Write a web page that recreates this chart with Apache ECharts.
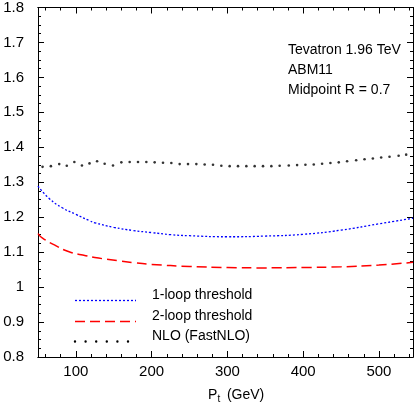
<!DOCTYPE html>
<html>
<head>
<meta charset="utf-8">
<script src="https://cdn.jsdelivr.net/npm/echarts@6/dist/echarts.min.js"></script>
<style>
  html, body { margin: 0; padding: 0; background: #fff; }
  #chart { width: 414px; height: 404px; }
</style>
</head>
<body>
<div id="chart"></div>
<script>
// x 轴刻度
var xMajor = [100, 200, 300, 400, 500];
var xMinor = [60, 80, 120, 140, 160, 180, 220, 240, 260, 280, 320, 340, 360, 380, 420, 440, 460, 480, 520, 540];

// 1-loop threshold
var loop1Pt = [50, 65, 82, 100, 118, 125, 150, 175, 200, 225, 250, 300, 350, 400, 450, 500, 545];
var loop1Val = [1.289, 1.253, 1.227, 1.208, 1.190, 1.184, 1.171, 1.162, 1.156, 1.150, 1.147, 1.144, 1.146, 1.151, 1.163, 1.181, 1.197];

// 2-loop threshold
var loop2Pt = [50, 56, 74, 91, 113, 130, 157, 175, 200, 250, 300, 350, 400, 450, 500, 545];
var loop2Val = [1.153, 1.140, 1.118, 1.101, 1.090, 1.083, 1.075, 1.070, 1.065, 1.059, 1.056, 1.055, 1.056, 1.058, 1.063, 1.071];

// NLO (FastNLO)
var nloPt = [56, 67, 78, 88, 98, 108, 118, 128, 138, 149, 160, 171, 182, 193, 204, 215, 226, 237, 248, 259, 270, 281, 292,
    303, 314, 325, 336, 347, 358, 369, 381, 392, 403, 414, 425, 436, 447, 458, 470, 481, 492, 503, 514, 526, 536];
var nloVal = [1.344, 1.346, 1.352, 1.347, 1.358, 1.348, 1.354, 1.360, 1.353, 1.348, 1.357, 1.358, 1.358, 1.358, 1.357, 1.356, 1.355, 1.352, 1.352, 1.352, 1.351, 1.350, 1.347,
    1.346, 1.346, 1.346, 1.346, 1.346, 1.346, 1.347, 1.348, 1.349, 1.350, 1.351, 1.353, 1.355, 1.357, 1.360, 1.363, 1.366, 1.368, 1.371, 1.373, 1.376, 1.379];

var legendNames = ['1-loop threshold', '2-loop threshold', 'NLO (FastNLO)'];
var infoLines = ['Tevatron 1.96 TeV', 'ABM11', 'Midpoint R = 0.7'];

function pairs(a, b) {
    var out = [];
    for (var i = 0; i < a.length; i++) out.push([a[i], b[i]]);
    return out;
}

var font = 'Liberation Sans, Arial, Helvetica, sans-serif';
var black = '#000';

function xAx(pos, ticks, len, labels) {
    return {
        type: 'value', position: pos, min: 50, max: 545,
        axisLine: { show: true, lineStyle: { color: black, width: 1 } },
        axisTick: { show: true, inside: true, length: len, customValues: ticks, lineStyle: { color: black, width: 1 } },
        axisLabel: labels ? { show: true, customValues: xMajor, color: black, fontSize: 15, fontFamily: font, margin: 7 } : { show: false },
        splitLine: { show: false }
    };
}
function yAx(pos, labels) {
    return {
        type: 'value', position: pos, min: 0.8, max: 1.8, interval: 0.1,
        axisLine: { show: true, lineStyle: { color: black, width: 1 } },
        axisTick: { show: true, inside: true, length: 6, lineStyle: { color: black, width: 1 } },
        minorTick: { show: true, splitNumber: 4, length: 3, lineStyle: { color: black, width: 1 } },
        axisLabel: labels ? { show: true, color: black, fontSize: 15, fontFamily: font, margin: 14 } : { show: false },
        splitLine: { show: false }, minorSplitLine: { show: false }
    };
}

var myChart = echarts.init(document.getElementById('chart'), null, { renderer: 'canvas' });

// 图例 + 注释
var graphics = [];
var legY = [300.5, 321.5, 341.5];
var legStyles = [
    { stroke: '#0000ff', lineWidth: 1.3, lineDash: [2, 2] },
    { stroke: '#ff0000', lineWidth: 1.5, lineDash: [10, 5] },
    { stroke: '#000', lineWidth: 2.4, lineDash: [0, 10.6], lineCap: 'round' }
];
for (var i = 0; i < legendNames.length; i++) {
    graphics.push({ type: 'line', shape: { x1: 75, y1: legY[i], x2: 136, y2: legY[i] }, style: legStyles[i] });
    graphics.push({ type: 'text', left: 152, top: legY[i] - 12, style: { text: legendNames[i], fill: black, font: '14px ' + font } });
}
for (var j = 0; j < infoLines.length; j++) {
    graphics.push({ type: 'text', left: 288, top: 43 + j * 20, style: { text: infoLines[j], fill: black, font: '14px ' + font } });
}
// x 轴标题 P_t (GeV)
graphics.push({ type: 'text', left: 208, top: 388, style: { text: 'P', fill: black, font: '14px ' + font } });
graphics.push({ type: 'text', left: 217.5, top: 394, style: { text: 't', fill: black, font: '10px ' + font } });
graphics.push({ type: 'text', left: 223, top: 388, style: { text: ' (GeV)', fill: black, font: '14px ' + font } });

var option = {
    animation: false,
    backgroundColor: '#fff',
    grid: { left: 38, right: 1, top: 5, bottom: 47 },
    xAxis: [
        xAx('bottom', xMajor, 6, true),
        xAx('bottom', xMinor, 3, false),
        xAx('top', xMajor, 6, false),
        xAx('top', xMinor, 3, false)
    ],
    yAxis: [yAx('left', true), yAx('right', false)],
    series: [{
            name: legendNames[0], type: 'line', smooth: true, showSymbol: false,
            data: pairs(loop1Pt, loop1Val),
            lineStyle: { color: '#0000ff', width: 1.3, type: [2, 2] }
        },
        {
            name: legendNames[1], type: 'line', smooth: true, showSymbol: false,
            data: pairs(loop2Pt, loop2Val),
            lineStyle: { color: '#ff0000', width: 1.5, type: [10, 5] }
        },
        {
            name: legendNames[2], type: 'scatter', symbol: 'circle', symbolSize: 2.6,
            data: pairs(nloPt, nloVal),
            itemStyle: { color: '#000' }
        }
    ],
    graphic: graphics
};
myChart.setOption(option);
</script>
</body>
</html>
